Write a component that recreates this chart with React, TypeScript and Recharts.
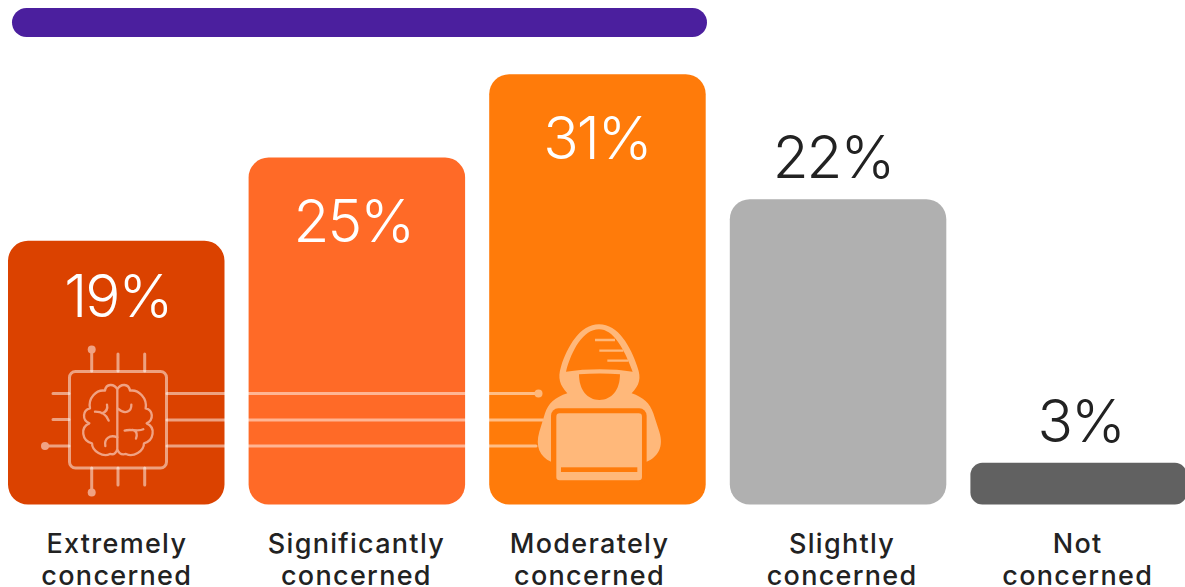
import React from "react";
import { BarChart, Bar, XAxis, YAxis, Cell, LabelList } from "recharts";

const categories = ["Extremely concerned", "Significantly concerned", "Moderately concerned", "Slightly concerned", "Not concerned"];
const values = [19, 25, 31, 22, 3];
const barColors = ["#DB4200", "#FF6A27", "#FF7B0A", "#B0B0B0", "#616161"];
const barRadii = [20, 20, 20, 20, 12];
const rows = categories.map((name, i) => ({ name, value: values[i] }));

const FONT = "Inter, 'Noto Sans', sans-serif";
const tickNudge = [0.5, -0.5, -8, 4, -1];
const valueNudgeX = [1.5, -3.5, -0.5, -5, 2];
const valueNudgeY = [55, 63, 63, -43, -42];
const valueColors = ["#FFFFFF", "#FFFFFF", "#FFFFFF", "#222222", "#222222"];

function CategoryTick(props: any) {
  const { x, y, payload, index } = props;
  const words = String(payload.value).split(" ");
  const tx = x + tickNudge[index];
  return (
    <text textAnchor="middle" fontFamily={FONT} fontSize={27} fontWeight={500} fill="#222222" letterSpacing={1.3}>
      <tspan x={tx} y={y + 40}>{words[0]}</tspan>
      <tspan x={tx} y={y + 72}>{words[1]}</tspan>
    </text>
  );
}

function ValueLabel(props: any) {
  const { x, y, width, value, index } = props;
  return (
    <text
      x={x + width / 2 + valueNudgeX[index]}
      y={y + valueNudgeY[index]}
      textAnchor="middle"
      dominantBaseline="central"
      fontFamily={FONT}
      fontWeight={300}
      fontSize={58.5}
      letterSpacing={-2}
      fill={valueColors[index]}
    >
      {value}%
    </text>
  );
}

const BRAIN_OUTLINE =
  "M262,178 C252,160 228,160 225,182 C198,178 174,205 180,235 C158,240 155,270 178,280 C150,292 155,332 186,340 C186,365 220,382 240,372 C250,375 258,370 262,358 " +
  "M262,178 C272,160 296,160 300,182 C327,178 352,205 347,235 C370,240 372,270 350,280 C378,292 372,332 342,340 C342,365 310,382 288,372 C276,375 266,370 262,358 L262,178";
const BRAIN_DETAIL =
  "M195,245 C210,245 228,250 236,272 M216,250 C230,245 234,236 231,224 M262,322 C238,312 222,328 226,348 M264,236 C285,255 305,245 304,224 M284,302 C300,296 325,306 340,298 M308,300 C322,304 322,314 318,326";

function Overlay() {
  const line = { stroke: "#FFFFFF", strokeOpacity: 0.5, strokeWidth: 3, fill: "none" } as const;
  const light = "#FFB87A";
  const orange = "#FF7B0A";
  return (
    <svg width={1185} height={587} style={{ position: "absolute", left: 0, top: 0, pointerEvents: "none" }}>
      <rect x={12} y={8} width={695} height={29} rx={14.5} fill="#4B1F9E" />

      {/* traces */}
      <path {...line} strokeLinecap="round" d="M167,393.5H538M167,420H543M167,446H536" />
      <path {...line} strokeLinecap="round" d="M91.7,350V371M118,354V371M144.7,354V371M91.7,468V492M118,468V485M144.7,468V485M53,393.5H69M53,419.5H69M45,446H69" />
      <circle cx={91.7} cy={349.5} r={4} fill="#F0A283" />
      <circle cx={91.7} cy={492.5} r={4} fill="#F0A283" />
      <circle cx={45} cy={446} r={4} fill="#F0A283" />
      <circle cx={538.5} cy={393.5} r={4} fill={light} />

      {/* chip + brain */}
      <rect x={69.5} y={371.5} width={97} height={96.5} rx={6} {...line} />
      <g transform="translate(30,330) scale(0.3333)" fill="none" stroke="#F0A283" strokeWidth={7} strokeLinecap="round" strokeLinejoin="round">
        <path d={BRAIN_OUTLINE} />
        <path d={BRAIN_DETAIL} />
      </g>

      {/* hooded figure */}
      <g transform="translate(480,310) scale(0.3333)">
        <path
          fill={light}
          d="M357,43 C300,43 262,110 243,170 C232,205 240,225 262,250 C225,262 205,280 195,310 L178,365 C165,410 180,440 213,455 L500,455 C535,440 552,410 538,365 L520,310 C510,280 490,262 455,250 C478,225 485,205 472,170 C452,110 415,43 357,43 Z"
        />
        <path fill={orange} d="M258,185 C275,120 310,58 357,58 C400,58 432,115 458,185 C400,175 320,175 258,185 Z" />
        <path stroke={light} strokeWidth={7} d="M345,90H405M358,122H430M382,152H445" />
        <path fill={orange} d="M297,193 C340,190 380,190 420,193 C420,240 395,270 358,270 C322,270 297,240 297,193 Z" />
        <rect x={213} y={295} width={287} height={225} rx={22} fill={orange} />
        <rect x={229} y={310} width={257} height={201} rx={10} fill={light} />
        <rect x={243} y={472} width={229} height={14} fill={orange} />
      </g>
    </svg>
  );
}

export default function App() {
  return (
    <div style={{ position: "absolute", left: 0, top: 0, width: 1185, height: 587, overflow: "hidden", background: "#FFFFFF" }}>
      <div style={{ position: "absolute", left: -4.2, top: 0 }}>
        <BarChart width={1203} height={587} data={rows} margin={{ top: 0, right: 0, bottom: 0, left: 0 }} barCategoryGap={0}>
          <XAxis dataKey="name" height={82.5} axisLine={false} tickLine={false} interval={0} tick={CategoryTick} />
          <YAxis hide domain={[0, 36.35]} />
          <Bar dataKey="value" barSize={216.5} radius={20} isAnimationActive={false}>
            {rows.map((r, i) => (
              <Cell key={r.name} fill={barColors[i]} radius={barRadii[i]} />
            ))}
            <LabelList dataKey="value" content={ValueLabel} />
          </Bar>
        </BarChart>
      </div>
      <Overlay />
    </div>
  );
}
